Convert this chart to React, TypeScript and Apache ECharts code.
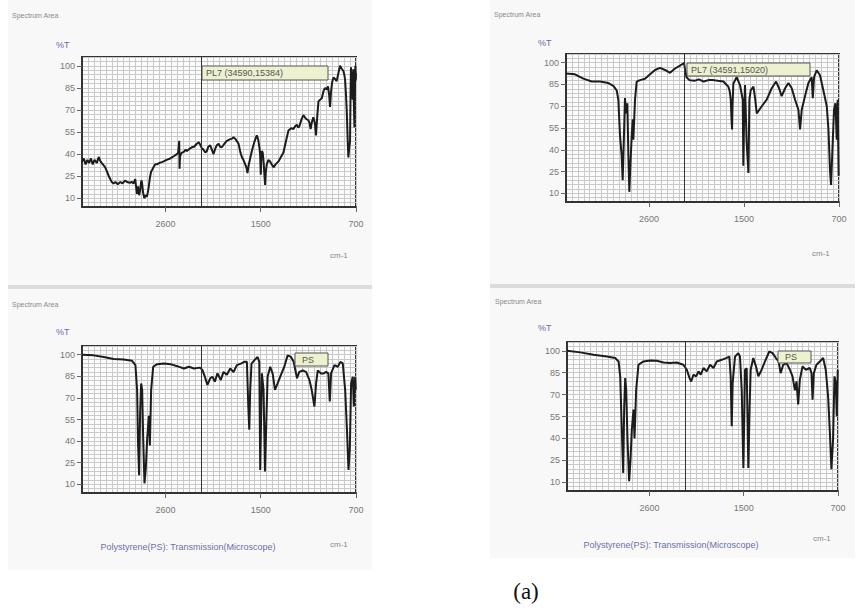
import React, { useEffect, useRef } from "react";
import * as echarts from "echarts";

// ---------- data ----------
const xTickWavenumbers = [2600, 1500, 700];
const yTickValues = [10, 25, 40, 55, 70, 85, 100];
const legendTexts = ["PL7 (34590,15384)", "PL7 (34591,15020)", "PS", "PS"];
const captionText = "Polystyrene(PS): Transmission(Microscope)";

const tlWavenumbers = [4000, 3970, 3940, 3910, 3880, 3850, 3820, 3790, 3750, 3720, 3690, 3650, 3610, 3580, 3540, 3500, 3470, 3440, 3400, 3357, 3320, 3280, 3245, 3200, 3160, 3134, 3106, 3090, 3078, 3060, 3040, 3022, 3005, 2994, 2975, 2955, 2930, 2910, 2895, 2882, 2860, 2840, 2826, 2800, 2770, 2742, 2700, 2660, 2630, 2580, 2519, 2460, 2407, 2385, 2368, 2364, 2362, 2355, 2340, 2323, 2290, 2260, 2239, 2200, 2155, 2120, 2072, 2040, 2016, 1995, 1980, 1965, 1952, 1940, 1924, 1910, 1896, 1880, 1868, 1854, 1840, 1826, 1805, 1784, 1760, 1740, 1728, 1710, 1686, 1670, 1658, 1645, 1630, 1620, 1611, 1602, 1594, 1580, 1566, 1550, 1533, 1525, 1519, 1510, 1505, 1501, 1499, 1495, 1490, 1483, 1475, 1468, 1463, 1458, 1449, 1435, 1421, 1408, 1393, 1375, 1351, 1330, 1309, 1290, 1267, 1245, 1225, 1210, 1197, 1185, 1175, 1160, 1142, 1120, 1100, 1090, 1081, 1070, 1058, 1045, 1036, 1025, 1015, 1000, 987, 972, 959, 945, 935, 925, 918, 910, 900, 889, 875, 862, 848, 834, 820, 806, 798, 792, 785, 778, 770, 764, 757, 750, 746, 742, 735, 728, 725, 722, 718, 713, 709, 705, 702, 700];
const tlTransmittance = [35, 37, 33, 36, 34, 37, 33, 36, 34, 38, 35, 33, 31, 28, 24, 21, 20, 21, 19.5, 21, 20, 22, 21, 20.5, 21, 20, 23, 17, 13, 18, 12, 16, 22, 21, 14, 10, 12, 11, 14, 17, 24, 28, 29, 31, 33, 33, 34, 34.5, 35, 36, 37, 38.5, 40, 41, 49, 36, 30, 38, 40, 41, 41.5, 43, 42, 43.5, 44.6, 45, 47, 48, 46.5, 44, 43, 41, 42, 45, 46, 43, 40, 44, 46, 47, 45, 44.6, 47, 49, 50, 50.5, 51.5, 50, 47, 41, 38, 36, 33, 31, 27, 32, 35, 40, 44.6, 49, 52.7, 51, 49, 44, 40, 30, 26, 38, 42, 41, 34, 25, 19, 27, 33, 36, 35, 33, 31, 33, 35, 38, 41, 48, 56, 57.5, 57, 59, 60, 58, 59, 63, 66.5, 64, 63, 61, 57, 62, 65, 61, 52.7, 66, 75.8, 77, 78, 83, 85, 84, 86, 80, 72, 82, 89, 92, 91, 89.6, 95, 100, 98, 96.5, 94, 90.8, 82, 70, 50, 37.7, 44, 49, 80, 99, 88, 77, 90, 97.7, 75, 58, 85, 100, 90, 95];

const trWavenumbers = [4000, 3848, 3708, 3567, 3427, 3287, 3202, 3146, 3118, 3090, 3062, 3045, 3022, 3006, 2989, 2966, 2949, 2933, 2910, 2893, 2876, 2865, 2837, 2809, 2753, 2669, 2584, 2500, 2416, 2331, 2247, 2163, 2079, 2011, 2000, 1985, 1960, 1920, 1880, 1840, 1800, 1758, 1720, 1674, 1650, 1632, 1620, 1612, 1605, 1601, 1597, 1590, 1562, 1534, 1511, 1506, 1500, 1492, 1478, 1463, 1455, 1444, 1421, 1407, 1393, 1351, 1309, 1267, 1230, 1205, 1183, 1154, 1126, 1098, 1070, 1042, 1028, 1014, 986, 958, 930, 921, 910, 888, 860, 832, 803, 789, 775, 767, 753, 742, 730, 719, 711, 703];
const trTransmittance = [92.5, 92, 89, 87, 87, 86, 84, 81, 74.5, 49.6, 36, 19, 52, 75.6, 65, 72, 36, 11, 34, 49.6, 61, 47, 74.5, 87, 88, 89, 92, 95, 96.4, 95, 93, 96, 98, 99.8, 97, 90, 88, 87.5, 88.5, 87, 88, 88, 87.5, 87, 85, 83.5, 80, 74.5, 60, 54, 70, 85.7, 90, 84.6, 74.5, 29, 60, 84.6, 45, 24, 74.5, 81, 83.5, 75.6, 65, 70, 74.5, 82.4, 87, 82.4, 77, 82.4, 86, 82.4, 74.5, 67.6, 54, 67.6, 77, 86, 90, 75.6, 90, 94.8, 91.4, 81, 70, 54, 24.7, 15.7, 45, 67.6, 72, 47, 74.5, 22];

const blWavenumbers = [4000, 3804, 3635, 3467, 3299, 3159, 3103, 3075, 3058, 3041, 3024, 3007, 2990, 2974, 2951, 2929, 2906, 2878, 2861, 2839, 2805, 2738, 2626, 2514, 2402, 2289, 2205, 2121, 2020, 1989, 1969, 1947, 1924, 1905, 1885, 1863, 1835, 1812, 1784, 1756, 1728, 1700, 1666, 1638, 1616, 1604, 1596, 1588, 1577, 1554, 1526, 1512, 1504, 1490, 1476, 1464, 1453, 1442, 1420, 1400, 1380, 1358, 1330, 1302, 1274, 1246, 1223, 1212, 1195, 1176, 1147, 1119, 1091, 1072, 1049, 1035, 1021, 993, 971, 951, 932, 920, 909, 881, 853, 831, 811, 791, 775, 763, 752, 741, 727, 718, 707, 702];
const blTransmittance = [100, 99.5, 98.4, 97, 96.6, 95.7, 92.7, 75.6, 37, 16.4, 60, 80, 75.6, 43.7, 10.7, 21, 41.5, 57.6, 37, 75.6, 91.6, 93.4, 93.8, 93.4, 92, 90.4, 91.6, 90.4, 91, 89.3, 84.7, 79, 83.6, 84.7, 81.3, 87, 82.4, 88, 86, 90.4, 88, 92.7, 93.8, 95, 95, 64, 48, 75.6, 93.8, 96, 98.4, 95, 20, 87, 75.6, 19, 52.8, 84.7, 91.6, 87, 75.6, 80, 86, 91.6, 99.5, 98.4, 95, 90.4, 83.6, 88, 89, 88, 82.4, 75.6, 64, 80, 89, 87, 87, 88, 87, 67.6, 87, 92.7, 91.6, 95, 94, 75.6, 46, 20, 34.6, 80, 84.7, 64, 84.7, 75.6];

const brWavenumbers = [4000, 3774, 3549, 3323, 3182, 3125, 3097, 3080, 3063, 3046, 3029, 3012, 2995, 2973, 2945, 2922, 2900, 2871, 2854, 2826, 2787, 2702, 2589, 2476, 2363, 2251, 2138, 2025, 1983, 1960, 1946, 1927, 1904, 1884, 1865, 1842, 1814, 1786, 1757, 1729, 1687, 1650, 1622, 1611, 1602, 1594, 1574, 1546, 1532, 1517, 1503, 1489, 1475, 1461, 1450, 1441, 1419, 1396, 1376, 1348, 1320, 1283, 1255, 1227, 1204, 1187, 1165, 1137, 1108, 1086, 1066, 1052, 1038, 1024, 1001, 973, 939, 925, 916, 905, 883, 854, 826, 804, 784, 770, 756, 742, 730, 719, 710, 702];
const brTransmittance = [100, 98.9, 97.3, 96, 95, 92.7, 82.5, 59.7, 37, 16.4, 62, 81.3, 73.3, 39, 10.7, 25.5, 46, 59.7, 40, 73.3, 90.4, 92.7, 93.4, 93.2, 92, 91.6, 92, 90.4, 87, 81.3, 79, 83.6, 82.5, 85.9, 83.6, 88.2, 85.9, 90.4, 88.2, 92.7, 93.8, 95, 96, 82.5, 48.3, 78, 96, 98.4, 96, 73, 19.8, 87, 88, 19.8, 62, 87, 95, 89.3, 82.5, 87, 92.7, 99.5, 98.4, 95, 92.7, 84.7, 90.4, 91.6, 87, 82.5, 73, 79, 63.2, 80.2, 89.3, 87, 88.2, 84.7, 66.5, 84.7, 90.4, 92.7, 95, 87, 68.8, 46, 19, 39, 82.5, 78, 55, 87];

// ---------- helpers ----------
// IR chart x-scale: 4000–2000 cm-1 compressed, 2000–700 cm-1 expanded 2x
const toU = (w: number) => (w >= 2000 ? 4000 - w : 2000 + 2 * (2000 - w));
const fromU = (u: number) => (u <= 2000 ? 4000 - u : 2000 - (u - 2000) / 2);

const panels = [
  { grid: { left: 82, top: 57, width: 274, height: 150 }, wn: tlWavenumbers, t: tlTransmittance },
  { grid: { left: 566, top: 54, width: 273, height: 148 }, wn: trWavenumbers, t: trTransmittance },
  { grid: { left: 82, top: 346, width: 274, height: 147 }, wn: blWavenumbers, t: blTransmittance },
  { grid: { left: 567, top: 342, width: 271, height: 149 }, wn: brWavenumbers, t: brTransmittance },
];

const smallFont = "Arial, 'Liberation Sans', sans-serif";

function text(x: number, y: number, t: string, opts: any = {}) {
  return {
    type: "text",
    x,
    y,
    z: 50,
    style: {
      text: t,
      fill: opts.fill || "#888",
      fontSize: opts.fontSize || 8,
      fontFamily: opts.fontFamily || smallFont,
      textAlign: opts.align || "left",
      textVerticalAlign: "middle",
    },
  };
}

export default function App() {
  const ref = useRef<HTMLDivElement>(null);
  useEffect(() => {
    document.body.style.margin = "0";
    const chart = echarts.init(ref.current!, undefined, { renderer: "svg" });
    const xTickU = xTickWavenumbers.map(toU);

    const xAxis: any[] = [];
    const yAxis: any[] = [];
    const series: any[] = [];
    panels.forEach((p, i) => {
      xAxis.push({
        gridIndex: i, type: "value", min: 0, max: 4600, interval: 100, position: "top",
        axisLine: { show: false }, axisTick: { show: false }, axisLabel: { show: false },
        splitLine: { show: true, lineStyle: { color: "#c9c9c9", width: 1 } },
      });
      xAxis.push({
        gridIndex: i, type: "value", min: 0, max: 4600, position: "bottom",
        axisLine: { show: true, lineStyle: { color: "#333", width: 2 } },
        axisTick: { show: true, customValues: xTickU, length: 5, lineStyle: { color: "#666" } },
        axisLabel: {
          customValues: xTickU, color: "#777", fontSize: 9, margin: 12, fontFamily: smallFont,
          formatter: (v: number) => String(Math.round(fromU(v))),
        },
        splitLine: { show: false },
      });
      yAxis.push({
        gridIndex: i, type: "value", min: 4, max: 106, interval: 3, position: "right",
        axisLine: { show: false }, axisTick: { show: false }, axisLabel: { show: false },
        splitLine: { show: true, lineStyle: { color: "#c9c9c9", width: 1 } },
      });
      yAxis.push({
        gridIndex: i, type: "value", min: 4, max: 106, position: "left",
        axisLine: { show: true, lineStyle: { color: "#333", width: 2 } },
        axisTick: { show: true, customValues: yTickValues, length: 5, lineStyle: { color: "#666" } },
        axisLabel: { customValues: yTickValues, color: "#777", fontSize: 9, margin: 7, fontFamily: smallFont },
        splitLine: { show: false },
      });
      series.push({
        type: "line",
        xAxisIndex: 2 * i + 1,
        yAxisIndex: 2 * i + 1,
        data: p.wn.map((w, k) => [toU(w), p.t[k]]),
        showSymbol: false,
        lineStyle: { color: "#1c1c1c", width: 2 },
        markLine: {
          silent: true, symbol: "none", label: { show: false },
          lineStyle: { color: "#333", width: 1, type: "solid" },
          data: [{ xAxis: 2000 }],
        },
      });
    });

    const graphics: any[] = [
      { type: "rect", z: -10, shape: { x: 8, y: 0, width: 364, height: 285 }, style: { fill: "#f8f8f8" } },
      { type: "rect", z: -9, shape: { x: 8, y: 285, width: 364, height: 4 }, style: { fill: "#dcdcdc" } },
      { type: "rect", z: -10, shape: { x: 490, y: 0, width: 365, height: 284 }, style: { fill: "#f8f8f8" } },
      { type: "rect", z: -9, shape: { x: 490, y: 284, width: 365, height: 4 }, style: { fill: "#dcdcdc" } },
      { type: "rect", z: -10, shape: { x: 8, y: 289, width: 364, height: 281 }, style: { fill: "#f8f8f8" } },
      { type: "rect", z: -10, shape: { x: 490, y: 288, width: 365, height: 270 }, style: { fill: "#f8f8f8" } },
      // legend boxes
      { type: "rect", z: 60, shape: { x: 202, y: 66, width: 126, height: 14 }, style: { fill: "#eef1cf", stroke: "#555", lineWidth: 1 } },
      { type: "rect", z: 60, shape: { x: 687, y: 63, width: 123, height: 13 }, style: { fill: "#eef1cf", stroke: "#555", lineWidth: 1 } },
      { type: "rect", z: 60, shape: { x: 295, y: 353, width: 33, height: 13 }, style: { fill: "#eef1cf", stroke: "#555", lineWidth: 1 } },
      { type: "rect", z: 60, shape: { x: 778, y: 351, width: 33, height: 12 }, style: { fill: "#eef1cf", stroke: "#555", lineWidth: 1 } },
      { ...text(206, 73, legendTexts[0], { fill: "#555", fontSize: 9 }), z: 61 },
      { ...text(691, 70, legendTexts[1], { fill: "#555", fontSize: 9 }), z: 61 },
      { ...text(302, 360, legendTexts[2], { fill: "#555", fontSize: 9 }), z: 61 },
      { ...text(785, 357, legendTexts[3], { fill: "#555", fontSize: 9 }), z: 61 },
      // headers
      text(12, 15, "Spectrum Area", { fontSize: 7 }),
      text(494, 14, "Spectrum Area", { fontSize: 7 }),
      text(12, 304, "Spectrum Area", { fontSize: 7 }),
      text(495, 301, "Spectrum Area", { fontSize: 7 }),
      text(56, 45, "%T", { fill: "#6a6aa8", fontSize: 9 }),
      text(538, 43, "%T", { fill: "#6a6aa8", fontSize: 9 }),
      text(56, 332, "%T", { fill: "#6a6aa8", fontSize: 9 }),
      text(538, 328, "%T", { fill: "#6a6aa8", fontSize: 9 }),
      text(330, 255, "cm-1", { fill: "#888", fontSize: 8 }),
      text(812, 253, "cm-1", { fill: "#888", fontSize: 8 }),
      text(330, 544, "cm-1", { fill: "#888", fontSize: 8 }),
      text(813, 538, "cm-1", { fill: "#888", fontSize: 8 }),
      text(188, 547, captionText, { fill: "#6a70a8", fontSize: 9, align: "center" }),
      text(671, 545, captionText, { fill: "#6a70a8", fontSize: 9, align: "center" }),
      text(526, 591, "(a)", { fill: "#111", fontSize: 23, fontFamily: "'Liberation Serif', 'Times New Roman', serif", align: "center" }),
    ];

    chart.setOption({
      animation: false,
      backgroundColor: "#ffffff",
      grid: panels.map((p) => ({
        ...p.grid,
        show: true,
        backgroundColor: "#fcfcfc",
        borderColor: "#333",
        borderWidth: 2,
      })),
      xAxis,
      yAxis,
      series,
      graphic: graphics,
    });
    return () => chart.dispose();
  }, []);
  return <div ref={ref} style={{ position: "absolute", left: 0, top: 0, width: 859, height: 610 }} />;
}
